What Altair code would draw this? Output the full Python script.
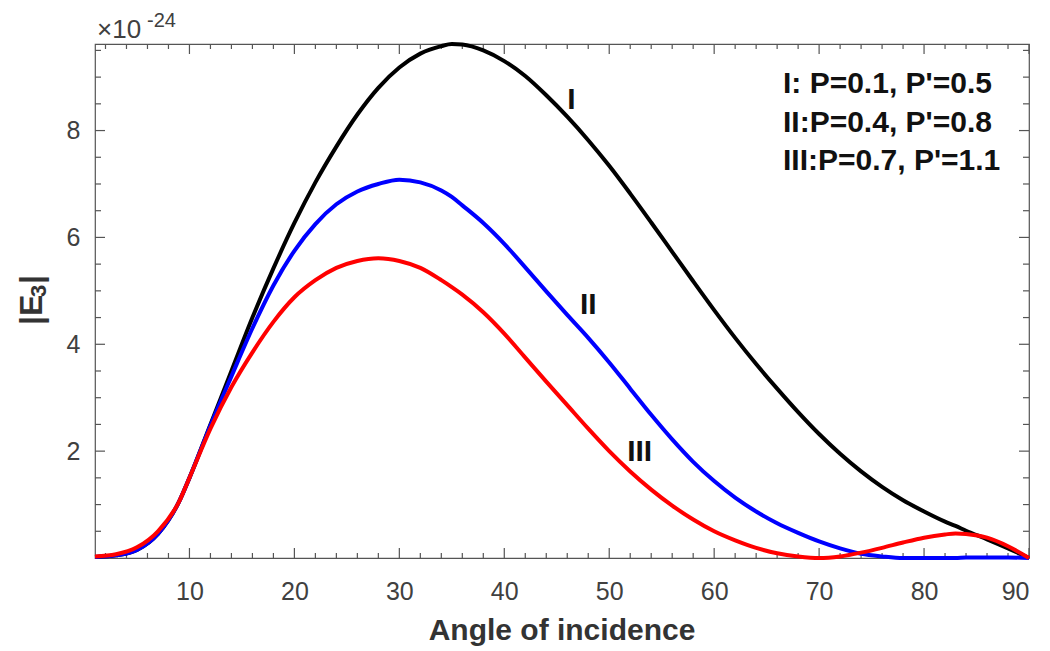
import altair as alt
import pandas as pd

# ---- data ----
angles = [1, 3, 5, 7, 9, 10, 12, 14, 16, 18, 20, 22, 24, 26, 28, 30, 32, 34, 35, 36,
          38, 40, 42, 44, 46, 48, 50, 52, 54, 56, 58, 60, 62, 64, 66, 68, 70, 72, 74,
          76, 78, 80, 82, 83, 84, 86, 88, 90]

curve_I = [0.02, 0.05, 0.15, 0.45, 1.05, 1.5, 2.5, 3.5, 4.5, 5.42, 6.27, 7.03, 7.7, 8.3,
           8.8, 9.18, 9.44, 9.58, 9.62, 9.61, 9.5, 9.3, 9.02, 8.66, 8.26, 7.82, 7.34,
           6.82, 6.28, 5.73, 5.18, 4.64, 4.12, 3.63, 3.17, 2.73, 2.32, 1.95, 1.62, 1.33,
           1.08, 0.87, 0.68, 0.6, 0.51, 0.35, 0.18, 0.0]

curve_II = [0.02, 0.05, 0.15, 0.45, 1.05, 1.5, 2.48, 3.4, 4.3, 5.1, 5.75, 6.25, 6.62, 6.86,
            7.0, 7.08, 7.03, 6.88, 6.76, 6.6, 6.27, 5.88, 5.44, 4.99, 4.55, 4.12, 3.66,
            3.17, 2.68, 2.22, 1.8, 1.44, 1.13, 0.87, 0.65, 0.47, 0.31, 0.18, 0.08, 0.03,
            0.0, 0.0, 0.0, 0.0, 0.01, 0.01, 0.01, 0.0]

curve_III = [0.03, 0.07, 0.2, 0.5, 1.05, 1.5, 2.42, 3.2, 3.85, 4.42, 4.88, 5.2, 5.43, 5.56,
             5.61, 5.56, 5.43, 5.2, 5.07, 4.93, 4.6, 4.2, 3.75, 3.3, 2.86, 2.42, 2.0,
             1.62, 1.28, 0.98, 0.72, 0.5, 0.33, 0.19, 0.09, 0.03, 0.0, 0.03, 0.1, 0.19,
             0.29, 0.38, 0.44, 0.46, 0.45, 0.38, 0.22, 0.0]

series_names = ["I", "II", "III"]
series_colors = ["#000000", "#0000ff", "#ff0000"]

x_major = [10, 20, 30, 40, 50, 60, 70, 80, 90]
x_minor = [v for v in range(2, 90, 2) if v % 10 != 0]
y_major = [2, 4, 6, 8]
y_minor = [0.5, 1, 1.5, 2.5, 3, 3.5, 4.5, 5, 5.5, 6.5, 7, 7.5, 8.5, 9, 9.5]

legend_lines = ["I: P=0.1, P'=0.5", "II:P=0.4, P'=0.8", "III:P=0.7, P'=1.1"]
curve_labels = ["I", "II", "III"]
curve_label_x = [46.4, 48.0, 52.9]
curve_label_y = [8.57, 4.74, 1.99]

x_title = "Angle of incidence"

# ---- layout ----
W, H = 934, 514
FONT = "Liberation Sans"
AXC = "#555555"
TXT = "#404040"

xs = alt.Scale(domain=[1, 90], nice=False, zero=False)
ys = alt.Scale(domain=[0, 9.62], nice=False, zero=False)

layers = []

# axes (labels only; ticks are drawn inward below)
base_axes = alt.Chart(pd.DataFrame({"a": [1, 90], "v": [0, 9.62]})).mark_point(opacity=0).encode(
    x=alt.X("a:Q", scale=xs, axis=alt.Axis(values=x_major, ticks=False, tickSize=0, domain=False,
                                            grid=False, labelFontSize=25, labelColor=TXT,
                                            labelFont=FONT, labelPadding=21, title=None)),
    y=alt.Y("v:Q", scale=ys, axis=alt.Axis(values=y_major, ticks=False, tickSize=0, domain=False,
                                            grid=False, labelFontSize=25, labelColor=TXT,
                                            labelFont=FONT, labelPadding=15, title=None)),
)
layers.append(base_axes)

# inward ticks
def xticks(vals, length):
    d = pd.DataFrame({"a": vals})
    b = alt.Chart(d).mark_rule(color=AXC, strokeWidth=1.2).encode(
        x=alt.X("a:Q", scale=xs), y=alt.value(H), y2=alt.value(H - length))
    t = alt.Chart(d).mark_rule(color=AXC, strokeWidth=1.2).encode(
        x=alt.X("a:Q", scale=xs), y=alt.value(0), y2=alt.value(length))
    return [b, t]

def yticks(vals, length):
    d = pd.DataFrame({"v": vals})
    l = alt.Chart(d).mark_rule(color=AXC, strokeWidth=1.2).encode(
        y=alt.Y("v:Q", scale=ys), x=alt.value(0), x2=alt.value(length))
    r = alt.Chart(d).mark_rule(color=AXC, strokeWidth=1.2).encode(
        y=alt.Y("v:Q", scale=ys), x=alt.value(W), x2=alt.value(W - length))
    return [l, r]

layers += xticks(x_major, 10) + xticks(x_minor, 5) + yticks(y_major, 10) + yticks(y_minor, 6)

# curves
for name, vals, col in zip(series_names, [curve_I, curve_II, curve_III], series_colors):
    d = pd.DataFrame({"angle": angles, "E3": vals})
    layers.append(
        alt.Chart(d).mark_line(color=col, strokeWidth=4, interpolate="monotone").encode(
            x=alt.X("angle:Q", scale=xs), y=alt.Y("E3:Q", scale=ys))
    )

# curve labels
lab = pd.DataFrame({"t": curve_labels, "x": curve_label_x, "y": curve_label_y})
layers.append(
    alt.Chart(lab).mark_text(font=FONT, fontSize=30, fontWeight="bold", color="#111111",
                             align="center", baseline="middle").encode(
        x=alt.X("x:Q", scale=xs), y=alt.Y("y:Q", scale=ys), text="t:N")
)

# legend text box
for i, line in enumerate(legend_lines):
    layers.append(
        alt.Chart(pd.DataFrame({"t": [line]})).mark_text(
            font=FONT, fontSize=30, fontWeight="bold", color="#111111",
            align="left", baseline="alphabetic").encode(
            x=alt.value(688), y=alt.value(49 + i * 38.5), text="t:N")
    )

# exponent label
layers.append(alt.Chart(pd.DataFrame({"t": ["\u00d710"]})).mark_text(
    font=FONT, fontSize=26, color=TXT, align="left", baseline="alphabetic").encode(
    x=alt.value(2), y=alt.value(-6), text="t:N"))
layers.append(alt.Chart(pd.DataFrame({"t": ["-24"]})).mark_text(
    font=FONT, fontSize=20, color=TXT, align="left", baseline="alphabetic").encode(
    x=alt.value(52), y=alt.value(-17), text="t:N"))

# x title
layers.append(alt.Chart(pd.DataFrame({"t": [x_title]})).mark_text(
    font=FONT, fontSize=30, fontWeight="bold", color="#333333", align="center",
    baseline="alphabetic").encode(x=alt.value(W / 2), y=alt.value(596), text="t:N"))

# y title |E3| built from pieces (rotated)
yt = [("|E", 32, -53, 281), ("3", 22, -49, 253), ("|", 32, -53, 240)]
for t, fs, px, py in yt:
    layers.append(alt.Chart(pd.DataFrame({"t": [t]})).mark_text(
        font=FONT, fontSize=fs, fontWeight="bold", color="#333333", align="left",
        baseline="alphabetic", angle=270).encode(
        x=alt.value(px), y=alt.value(py), text="t:N"))

chart = alt.layer(*layers).properties(
    width=W, height=H, autosize="none",
    padding={"left": 95, "top": 44, "right": 21, "bottom": 93},
    background="white",
).configure_view(stroke=AXC, strokeWidth=1.2)

chart.save("out.html", embed_options={"renderer": "svg", "actions": False})
